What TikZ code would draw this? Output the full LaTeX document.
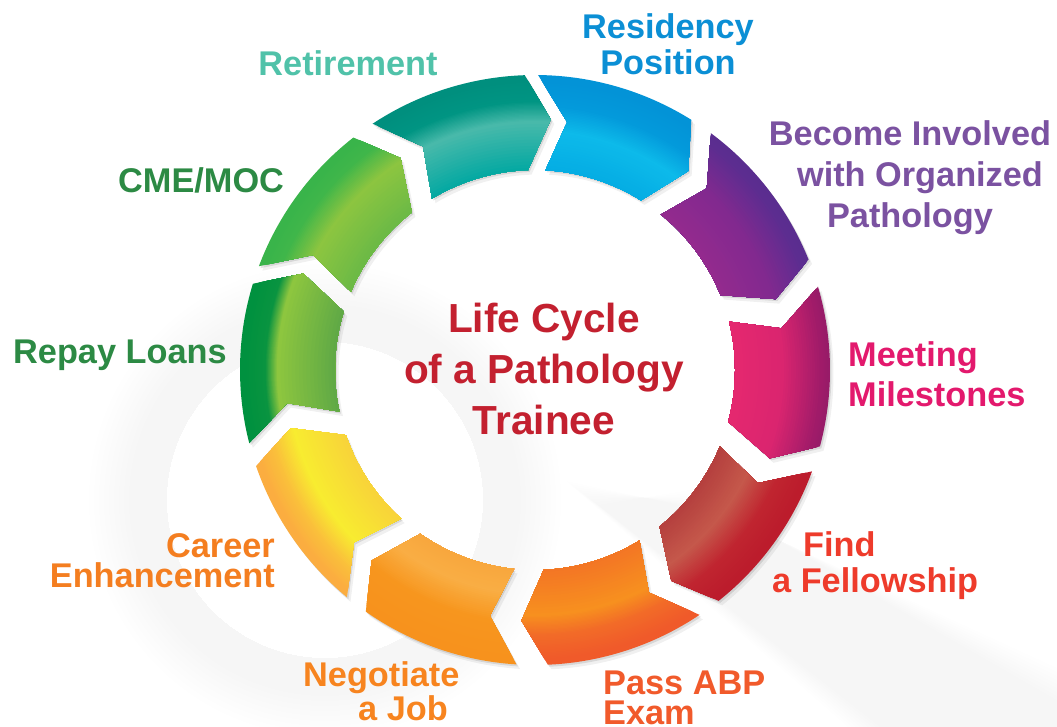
\documentclass[tikz,border=0pt]{standalone}
\usepackage{fontspec}
\setmainfont{Liberation Sans}
\usetikzlibrary{calc}
% label colours
\definecolor{tRet}{HTML}{50C2A9}
\definecolor{tRes}{HTML}{0B8FD5}
\definecolor{tInv}{HTML}{7B52A1}
\definecolor{tMeet}{HTML}{E3196D}
\definecolor{tFind}{HTML}{EE3B2B}
\definecolor{tPass}{HTML}{F15A2B}
\definecolor{tNeg}{HTML}{F7841F}
\definecolor{tCar}{HTML}{F47E20}
\definecolor{tGreen}{HTML}{2C8A44}
\definecolor{tCenter}{HTML}{C3202F}
% segment colours (A inner, B band, C, D outer)
\definecolor{resA}{HTML}{04ACE3}\definecolor{resB}{HTML}{0DBAEA}\definecolor{resC}{HTML}{039ADB}\definecolor{resD}{HTML}{0393D7}
\definecolor{retA}{HTML}{00A8A2}\definecolor{retB}{HTML}{48B9AA}\definecolor{retC}{HTML}{009583}\definecolor{retD}{HTML}{008F7E}
\definecolor{invA}{HTML}{952A8E}\definecolor{invB}{HTML}{82298F}\definecolor{invC}{HTML}{5C2D90}\definecolor{invD}{HTML}{5A2D8F}
\definecolor{meeA}{HTML}{E6286F}\definecolor{meeB}{HTML}{DA256F}\definecolor{meeC}{HTML}{A01B69}\definecolor{meeD}{HTML}{981B68}
\definecolor{finA}{HTML}{B43E3D}\definecolor{finB}{HTML}{C5584B}\definecolor{finC}{HTML}{C02530}\definecolor{finD}{HTML}{BC1C2C}
\definecolor{pasA}{HTML}{F37425}\definecolor{pasB}{HTML}{F7901F}\definecolor{pasC}{HTML}{F26B28}\definecolor{pasD}{HTML}{F05A2A}
\definecolor{negA}{HTML}{F8A63D}\definecolor{negB}{HTML}{F9AE44}\definecolor{negC}{HTML}{F7961E}\definecolor{negD}{HTML}{F7921D}
\definecolor{carA}{HTML}{F8D23A}\definecolor{carB}{HTML}{F8EC30}\definecolor{carC}{HTML}{FAC03B}\definecolor{carD}{HTML}{FBAD40}
\definecolor{repA}{HTML}{5DA746}\definecolor{repB}{HTML}{8DC63F}\definecolor{repC}{HTML}{0A9440}\definecolor{repD}{HTML}{00913F}
\definecolor{cmeA}{HTML}{6AB946}\definecolor{cmeB}{HTML}{8CC540}\definecolor{cmeC}{HTML}{40B64A}\definecolor{cmeD}{HTML}{39B44A}
% radial colour band: #1 colour at inner radius #3, #2 colour at outer radius #4
\newcommand\ringband[4]{%
  \foreach \k in {0,...,16}{%
    \pgfmathsetmacro\bandR{#4-(#4-#3)*\k/16}%
    \pgfmathsetmacro\bandP{100*\k/16}%
    \fill[#1!\bandP!#2] (0,0) circle (\bandR);}}
\begin{document}
\begin{tikzpicture}[x=1pt,y=1pt,
  lbl/.style={inner sep=0pt, font=\fontsize{34.3}{#1}\selectfont\bfseries},
  seg/.style={insert path={(#1+1.4:295) arc[start angle=#1+1.4, end angle=#1-30, radius=295]
     -- (#1-35.6:251) -- (#1-30:200) arc[start angle=#1-30, end angle=#1-1, radius=200]
     -- (#1-5.4:250) -- cycle}},
  shadowA/.style={fill=black, opacity=0.10, shift={(1.5,-2)}},
  shadowB/.style={fill=black, opacity=0.06, shift={(3.5,-4.5)}},
  haze/.style={fill=black, opacity=0.005}]
\useasboundingbox (0,0) rectangle (1057,-727);
\fill[white] (0,0) rectangle (1057,-727);
% faint, soft background magnifier shape
\foreach \i in {0,...,8}{
  \fill[haze, even odd rule] (325,-500) circle ({196+5*\i}) (325,-500) circle (158);
  \fill[haze] ({598-4*\i},{-505+3*\i}) -- ({690+4*\i},{-490-3*\i}) -- (1057,{-700+4*\i}) -- (1057,-727) -- ({880-4*\i},-727) -- cycle;
}
\begin{scope}[shift={(535,-370)}]
  \foreach \a in {88,52,15,-21.5,-57.5,-95,-131,-167,-202,-238}{
    \path[shadowB, seg=\a];
    \path[shadowA, seg=\a];
  }
  \foreach \a/\n/\rb/\rc/\rd in {88/res/240/265/290, 52/inv/249/287/293, 15/mee/249/287/293,
      -21.5/fin/237/266/290, -57.5/pas/246/266/290, -95/neg/225/255/290, -131/car/249/272/290,
      -167/rep/258/270/290, -202/cme/249/275/290, -238/ret/249/269/290}{
    \begin{scope}
      \clip[seg=\a];
      \fill[\n D] (0,0) circle (297);
      \ringband{\n C}{\n D}{\rc}{\rd}
      \ringband{\n B}{\n C}{\rb}{\rc}
      \ringband{\n A}{\n B}{199}{\rb}
    \end{scope}
  }
\end{scope}
\node[lbl=36, text=tRet, anchor=base] (ret) at (348,-76) {Retirement};
\node[lbl=36, text=tRes, align=center, anchor=base] (res) at (668,-74.5) {Residency\\Position};
\node[lbl=41, text=tInv, align=center, anchor=base] (inv) at (910,-228) {Become Involved\\\hspace*{20pt}with Organized\\Pathology};
\node[lbl=40, text=tMeet, align=left, anchor=base west] (meet) at (848,-406) {Meeting\\Milestones};
\node[lbl=36, text=tFind, align=left, anchor=base west] (find) at (772,-592) {\hspace*{31pt}Find\\a Fellowship};
\node[lbl=30, text=tPass, align=left, anchor=base west] (pass) at (603,-724) {Pass ABP\\Exam};
\node[lbl=30, text=tNeg, align=left, anchor=base west] (neg) at (303,-720) {Negotiate\\\hspace*{55pt}a Job};
\node[lbl=30, text=tCar, align=right, anchor=base east] (car) at (275,-587) {Career\\Enhancement};
\node[lbl=36, text=tGreen, anchor=base west] (repay) at (13,-363) {Repay Loans};
\node[lbl=36, text=tGreen, anchor=base west] (cme) at (118,-193) {CME/MOC};
\node[inner sep=0pt, font=\fontsize{40.6}{51}\selectfont\bfseries, text=tCenter, align=center, anchor=base] (title) at (544,-434) {Life Cycle\\of a Pathology\\Trainee};
\end{tikzpicture}
\end{document}
